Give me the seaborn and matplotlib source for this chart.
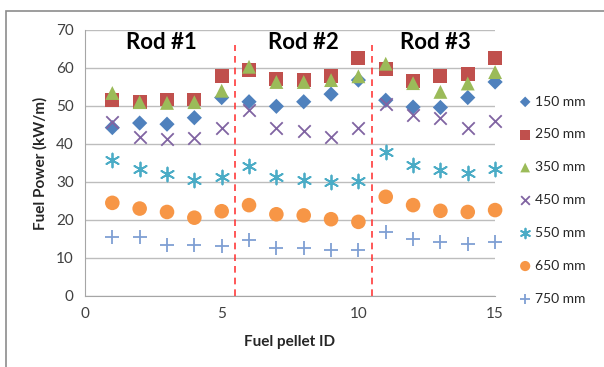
import numpy as np
import pandas as pd
import matplotlib
matplotlib.use("Agg")
import matplotlib.pyplot as plt
import seaborn as sns
from matplotlib.patches import Rectangle

# ---------------------------------------------------------------------------
# Data
# ---------------------------------------------------------------------------
pellet_id = list(range(1, 16))

power_150 = [44.3, 45.5, 45.2, 46.9, 52.2, 51.1, 49.9, 51.1, 53.1, 56.8,
             51.5, 49.7, 49.6, 52.2, 56.3]
power_250 = [51.5, 51.1, 51.7, 51.7, 57.8, 59.4, 57.2, 56.9, 57.8, 62.7,
             59.6, 56.6, 57.8, 58.3, 62.5]
power_350 = [53.4, 51.0, 50.8, 51.0, 54.0, 60.3, 56.3, 56.3, 56.8, 57.8,
             61.1, 56.0, 53.7, 55.9, 58.9]
power_450 = [45.8, 41.7, 41.4, 41.6, 44.2, 48.9, 44.3, 43.3, 41.7, 44.3,
             50.6, 47.6, 46.9, 44.3, 46.0]
power_550 = [35.7, 33.5, 32.2, 30.6, 31.3, 34.1, 31.3, 30.4, 30.0, 30.2,
             37.9, 34.4, 33.1, 32.4, 33.3]
power_650 = [24.5, 23.0, 22.1, 20.6, 22.3, 23.9, 21.5, 21.2, 20.2, 19.5,
             26.1, 23.9, 22.4, 22.1, 22.6]
power_750 = [15.5, 15.4, 13.3, 13.3, 13.1, 14.7, 12.5, 12.5, 12.0, 12.0,
             16.8, 15.1, 14.2, 13.6, 14.2]

series_labels = ["150 mm", "250 mm", "350 mm", "450 mm", "550 mm", "650 mm", "750 mm"]
series_values = [power_150, power_250, power_350, power_450,
                 power_550, power_650, power_750]

rod_labels = ["Rod #1", "Rod #2", "Rod #3"]
rod_centers = [2.8, 8.0, 12.8]
rod_bounds = [5.5, 10.5]

# ---------------------------------------------------------------------------
# Styles
# ---------------------------------------------------------------------------
COLOURS = ["#4F81BD", "#C0504D", "#9BBB59", "#8064A2", "#4BACC6", "#F79646", "#7F9FD3"]
MARKERS = ["D", "s", "^", "x", (6, 2, 0), "o", "+"]
SIZES = [60, 100, 100, 80, 100, 110, 110]

df = pd.DataFrame({
    "Fuel pellet ID": np.tile(pellet_id, len(series_labels)),
    "Fuel Power (kW/m)": np.concatenate(series_values),
    "series": np.repeat(series_labels, len(pellet_id)),
})

sns.set_style("white")
plt.rcParams["font.family"] = ["Lato", "DejaVu Sans"]

fig = plt.figure(figsize=(6.04, 3.67), dpi=100)
ax = fig.add_axes([0.1407, 0.1935, 0.679, 0.725])

# frame around the chart (cropped at right/bottom)
fig.patches.append(Rectangle((6 / 604, -0.1), 1.2, 1 - 11 / 367 + 0.1,
                             transform=fig.transFigure, fill=False,
                             edgecolor="#8c8c8c", lw=1.2))

for i, (lab, col, mk, sz) in enumerate(zip(series_labels, COLOURS, MARKERS, SIZES)):
    sub = df[df["series"] == lab]
    filled = mk not in ("x", "+") and not isinstance(mk, tuple)
    kw = dict(edgecolor="none") if filled else dict(linewidth=1.3)
    sns.scatterplot(data=sub, x="Fuel pellet ID", y="Fuel Power (kW/m)",
                    color=col, marker=mk, s=sz, ax=ax, label=lab,
                    zorder=3 + i * 0.1, clip_on=False, **kw)

# rod boundaries
ax.vlines(rod_bounds, 0, 66, colors="#FF3B3B", linestyles=(0, (4, 3)), lw=1.2, zorder=2)
for lab, xc in zip(rod_labels, rod_centers):
    ax.text(xc, 66.8, lab, ha="center", va="center", fontsize=16,
            fontweight="bold", color="black")

ax.set_xlim(0, 15)
ax.set_ylim(0, 70)
ax.set_xticks([0, 5, 10, 15])
ax.set_yticks(range(0, 71, 10))
ax.yaxis.grid(True, color="#bdbdbd", lw=1.0)
ax.set_axisbelow(True)
for side in ("top", "right"):
    ax.spines[side].set_visible(False)
for side in ("left", "bottom"):
    ax.spines[side].set_color("#a6a6a6")
ax.tick_params(axis="both", labelsize=11, colors="#404040", length=0, pad=8)
ax.set_xlabel("Fuel pellet ID", fontsize=11, fontweight="bold", labelpad=10)
ax.set_ylabel("Fuel Power (kW/m)", fontsize=11, fontweight="bold", labelpad=6)

ax.legend_.remove()
handles, labels = ax.get_legend_handles_labels()
fig.legend(handles, labels, loc="center left", bbox_to_anchor=(0.835, 0.455),
           frameon=False, fontsize=10, labelspacing=1.5, handletextpad=0.1,
           markerscale=0.7, handlelength=1.2)

fig.savefig("out.png", dpi=100)
